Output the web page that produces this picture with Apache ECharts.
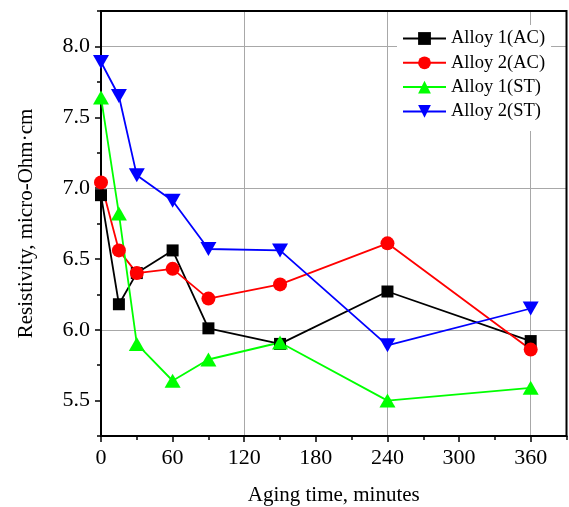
<!DOCTYPE html>
<html>
<head>
<meta charset="utf-8">
<script src="https://cdn.jsdelivr.net/npm/echarts@6/dist/echarts.min.js"></script>
<style>
html,body{margin:0;padding:0;background:#fff;}
#chart{width:569px;height:507px;}
</style>
</head>
<body>
<div id="chart"></div>
<script>
var agingTime = [0, 15, 30, 60, 90, 150, 240, 360];
var alloy1AC = [6.95, 6.18, 6.40, 6.56, 6.01, 5.90, 6.27, 5.92];
var alloy2AC = [7.04, 6.56, 6.40, 6.43, 6.22, 6.32, 6.61, 5.86];
var alloy1ST = [7.64, 6.82, 5.90, 5.64, 5.79, 5.91, 5.50, 5.59];
var alloy2ST = [7.89, 7.65, 7.09, 6.91, 6.57, 6.56, 5.89, 6.15];
var seriesNames = ['Alloy 1(AC)', 'Alloy 2(AC)', 'Alloy 1(ST)', 'Alloy 2(ST)'];
var xMajorTicks = [0, 60, 120, 180, 240, 300, 360];
var yMajorTicks = [5.5, 6.0, 6.5, 7.0, 7.5, 8.0];
var xTitle = 'Aging time, minutes';
var yTitle = 'Resistivity, micro-Ohm\u00B7cm';

var FONT = 'Liberation Serif';
function pairs(ys){ return agingTime.map(function(x,i){ return [x, ys[i]]; }); }
var downTri = 'path://M0,0L20,0L10,17.5Z';

var chart = echarts.init(document.getElementById('chart'), null, {renderer:'canvas'});
function mk(name, ys, color, symbol, size){
  return {
    name: name, type: 'line', data: pairs(ys),
    xAxisIndex: 0, yAxisIndex: 0,
    symbol: symbol, symbolSize: size,
    lineStyle: {color: color, width: 1.8},
    itemStyle: {color: color},
    emphasis: {disabled: true},
    animation: false
  };
}
var option = {
  animation: false,
  textStyle: {fontFamily: FONT},
  grid: {left: 101, right: 2.5, top: 11, bottom: 71, show: true, borderColor: '#000', borderWidth: 2, backgroundColor: 'transparent', z: 3, outerBoundsMode: 'none', containLabel: false},
  legend: {
    data: seriesNames,
    left: 397, top: 25,
    orient: 'vertical',
    itemWidth: 43, itemHeight: 16, itemGap: 5.3,
    padding: [4, 6, 10, 5],
    backgroundColor: '#fff',
    textStyle: {fontFamily: FONT, fontSize: 18.5, color: '#000'},
    selectedMode: false
  },
  xAxis: [{
    type: 'value', min: 0, max: 390, interval: 30,
    name: xTitle, nameLocation: 'middle', nameGap: 49,
    nameTextStyle: {fontFamily: FONT, fontSize: 21, color: '#000'},
    axisLine: {show: true, onZero: false, lineStyle: {color: '#000', width: 2}},
    axisTick: {show: true, length: 6, lineStyle: {color: '#000', width: 1.5}, customValues: xMajorTicks},
    axisLabel: {fontFamily: FONT, fontSize: 22, color: '#000', margin: 11, customValues: xMajorTicks},
    splitLine: {show: true, lineStyle: {color: ['#a8a8a8', 'rgba(0,0,0,0)'], width: 1}}
  }, {
    type: 'value', min: 0, max: 390, interval: 30, position: 'bottom',
    axisLine: {show: false}, axisLabel: {show: false}, splitLine: {show: false},
    axisTick: {show: true, length: 4, lineStyle: {color: '#000', width: 1.5}}
  }],
  yAxis: [{
    type: 'value', min: 5.25, max: 8.25, interval: 0.25,
    name: yTitle, nameLocation: 'middle', nameGap: 64,
    nameTextStyle: {fontFamily: FONT, fontSize: 21, color: '#000'},
    axisLine: {show: true, onZero: false, lineStyle: {color: '#000', width: 2}},
    axisTick: {show: true, length: 6, lineStyle: {color: '#000', width: 1.5}, customValues: yMajorTicks},
    axisLabel: {fontFamily: FONT, fontSize: 22, color: '#000', margin: 11, customValues: yMajorTicks,
      formatter: function(v){ return v.toFixed(1); }},
    splitLine: {show: true, lineStyle: {color: ['rgba(0,0,0,0)', '#a8a8a8'], width: 1}}
  }, {
    type: 'value', min: 5.25, max: 8.25, interval: 0.25, position: 'left',
    axisLine: {show: false}, axisLabel: {show: false}, splitLine: {show: false},
    axisTick: {show: true, length: 4, lineStyle: {color: '#000', width: 1.5}}
  }],
  series: [
    mk(seriesNames[0], alloy1AC, '#000000', 'rect', 12),
    mk(seriesNames[1], alloy2AC, '#ff0000', 'circle', 14),
    mk(seriesNames[2], alloy1ST, '#00ff00', 'triangle', [16, 14]),
    mk(seriesNames[3], alloy2ST, '#0000ff', downTri, [16, 14])
  ]
};
chart.setOption(option);
</script>
</body>
</html>
